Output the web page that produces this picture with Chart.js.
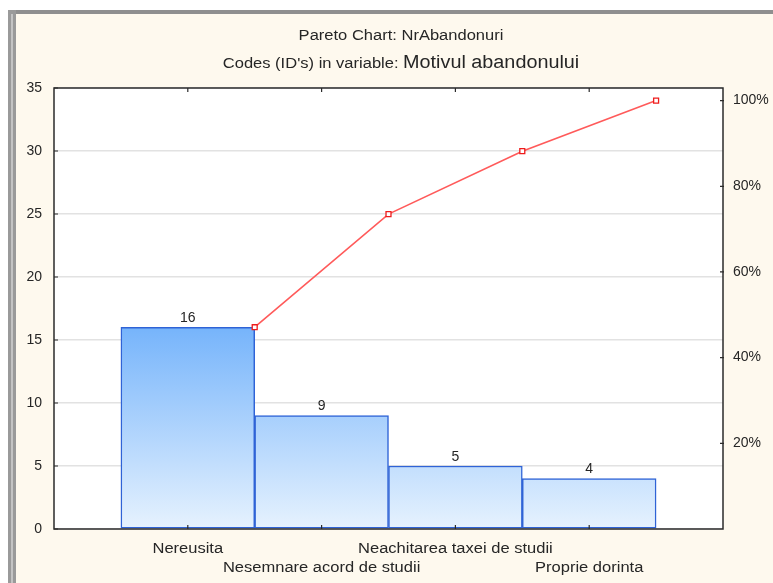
<!DOCTYPE html>
<html>
<head>
<meta charset="utf-8">
<script src="https://cdn.jsdelivr.net/npm/chart.js@4.4.1/dist/chart.umd.min.js"></script>
<style>
    html, body { margin: 0; padding: 0; background: #ffffff; }
    canvas { display: block; }
</style>
</head>
<body>
<canvas id="pareto_chart" width="773" height="583"></canvas>
<script>
'use strict';

// values
const categories = ['Nereusita', 'Nesemnare acord de studii', 'Neachitarea taxei de studii', 'Proprie dorinta'];
const counts = [16, 9, 5, 4];
const cumulative_pct = [47.1, 73.5, 88.2, 100];
const count_ticks = [0, 5, 10, 15, 20, 25, 30, 35];
const pct_ticks = [20, 40, 60, 80, 100];

const title_1 = 'Pareto Chart: NrAbandonuri';
const title_2a = "Codes (ID's) in variable: ";
const title_2b = 'Motivul abandonului';

const FONT = "'Liberation Sans', Arial, sans-serif";
const TEXT = '#262626';

const count_max = count_ticks[count_ticks.length - 1];
const total = counts.reduce((a, b) => a + b, 0);
// 100% sits at the total count on the left scale
const pct_max = 100 * count_max / total;

function bar_gradient(context) {
    let chart = context.chart;
    let area = chart.chartArea;
    if (!area) {
        return '#a8d0fb';
    }
    let top = chart.scales.y.getPixelForValue(Math.max(...counts));
    let g = chart.ctx.createLinearGradient(0, top, 0, area.bottom);
    g.addColorStop(0, '#76b4fb');
    g.addColorStop(1, '#e6f2fe');
    return g;
}

// the source text is a bit wider than Liberation Sans, so stretch it
function wide_text(ctx, text, x, y, font, stretch, align) {
    ctx.save();
    ctx.font = font;
    let w = ctx.measureText(text).width * stretch;
    let left = x;
    if (align === 'center') {
        left = x - w / 2;
    }
    ctx.translate(left, y);
    ctx.scale(stretch, 1);
    ctx.textAlign = 'left';
    ctx.fillText(text, 0, 0);
    ctx.restore();
    return w;
}

function text_width(ctx, text, font, stretch) {
    ctx.save();
    ctx.font = font;
    let w = ctx.measureText(text).width * stretch;
    ctx.restore();
    return w;
}

const frame_plugin = {
    id: 'frame_plugin',
    beforeDraw: (chart) => {
        let ctx = chart.ctx;
        let a = chart.chartArea;
        ctx.save();
        ctx.fillStyle = '#ffffff';
        ctx.fillRect(0, 0, chart.width, chart.height);
        ctx.fillStyle = '#8f8f8f';
        ctx.fillRect(8, 10, chart.width - 8, 4);
        ctx.fillStyle = '#9a9a9a';
        ctx.fillRect(8, 10, 8, chart.height - 10);
        ctx.fillStyle = '#c4c4c4';
        ctx.fillRect(11, 14, 2, chart.height - 14);
        ctx.fillStyle = '#fef9ee';
        ctx.fillRect(16, 14, chart.width - 16, chart.height - 14);
        ctx.fillStyle = '#ffffff';
        ctx.fillRect(a.left, a.top, a.right - a.left, a.bottom - a.top);
        ctx.restore();
    },
    afterDatasetsDraw: (chart) => {
        let ctx = chart.ctx;
        let a = chart.chartArea;
        let x = chart.scales.x;
        let y = chart.scales.y;
        let y2 = chart.scales.y2;
        ctx.save();

        // value labels above the bars
        ctx.fillStyle = TEXT;
        ctx.font = '14px ' + FONT;
        ctx.textAlign = 'center';
        ctx.textBaseline = 'bottom';
        counts.forEach(function (c, i) {
            ctx.fillText(String(c), x.getPixelForValue(i), y.getPixelForValue(c) - 2);
        });

        // category names, every second one on a lower row
        ctx.textBaseline = 'alphabetic';
        categories.forEach(function (c, i) {
            let row = i % 2 ? 19 : 0;
            wide_text(ctx, c, x.getPixelForValue(i), a.bottom + 24 + row, '14px ' + FONT, 1.18, 'center');
        });

        // plot border and small inner ticks
        ctx.strokeStyle = '#2b2b2b';
        ctx.lineWidth = 1.5;
        ctx.strokeRect(a.left, a.top, a.right - a.left, a.bottom - a.top);
        ctx.lineWidth = 1.2;
        ctx.beginPath();
        count_ticks.forEach(function (v) {
            let py = y.getPixelForValue(v);
            ctx.moveTo(a.left, py);
            ctx.lineTo(a.left + 4, py);
        });
        pct_ticks.forEach(function (v) {
            let py = y2.getPixelForValue(v);
            ctx.moveTo(a.right - 3, py);
            ctx.lineTo(a.right + 1, py);
        });
        categories.forEach(function (c, i) {
            let px = x.getPixelForValue(i);
            ctx.moveTo(px, a.top);
            ctx.lineTo(px, a.top + 4);
            ctx.moveTo(px, a.bottom);
            ctx.lineTo(px, a.bottom - 4);
        });
        ctx.stroke();
        ctx.restore();
    },
    afterDraw: (chart) => {
        let ctx = chart.ctx;
        let cx = 401;
        ctx.save();
        ctx.fillStyle = TEXT;
        ctx.textBaseline = 'alphabetic';
        wide_text(ctx, title_1, cx, 40, '14px ' + FONT, 1.18, 'center');

        // second line mixes two sizes
        let f_small = '14px ' + FONT;
        let f_big = '18px ' + FONT;
        let w1 = text_width(ctx, title_2a, f_small, 1.18);
        let w2 = text_width(ctx, title_2b, f_big, 1.1);
        let left = cx - (w1 + w2) / 2;
        wide_text(ctx, title_2a, left, 68, f_small, 1.18, 'left');
        wide_text(ctx, title_2b, left + w1, 68, f_big, 1.1, 'left');
        ctx.restore();
    }
};

let canvas = document.getElementById('pareto_chart').getContext('2d');
let pareto = new Chart(canvas, {
    data: {
        datasets: [
            {
                type: 'line',
                label: 'Cumulative %',
                yAxisID: 'y2',
                data: cumulative_pct.map((p, i) => ({x: i + 0.5, y: p})),
                borderColor: '#ff5a5a',
                borderWidth: 1.6,
                tension: 0,
                pointStyle: 'rect',
                pointRadius: 3.5,
                pointBorderWidth: 1.3,
                pointBorderColor: '#ee1c1c',
                pointBackgroundColor: '#ffffff',
                order: 0,
            },
            {
                type: 'bar',
                label: 'NrAbandonuri',
                yAxisID: 'y',
                data: counts.map((c, i) => ({x: i, y: c})),
                backgroundColor: bar_gradient,
                borderColor: '#2f63d6',
                borderWidth: 1.5,
                borderSkipped: false,
                barPercentage: 1,
                categoryPercentage: 1,
                order: 1,
            }
        ]
    },
    plugins: [frame_plugin],
    options: {
        responsive: false,
        animation: false,
        layout: {padding: {top: 88, left: 0, right: 0, bottom: 0}},
        plugins: {
            legend: {display: false},
            tooltip: {enabled: false},
            title: {display: false},
        },
        scales: {
            x: {
                type: 'linear',
                min: -1,
                max: categories.length,
                offset: false,
                grid: {display: false, offset: false},
                border: {display: false},
                afterBuildTicks: (s) => {
                    s.ticks = categories.map((c, i) => ({value: i}));
                },
                afterFit: (s) => {
                    s.height = 54;
                },
                // names are drawn by frame_plugin
                ticks: {display: false}
            },
            y: {
                position: 'left',
                min: 0,
                max: count_max,
                grid: {color: '#e2e2e2', lineWidth: 1.5, drawTicks: false},
                border: {display: false},
                afterBuildTicks: (s) => {
                    s.ticks = count_ticks.map((v) => ({value: v}));
                },
                afterFit: (s) => {
                    s.width = 54;
                },
                ticks: {
                    padding: 12,
                    color: TEXT,
                    font: {family: FONT, size: 14},
                }
            },
            y2: {
                position: 'right',
                min: 0,
                max: pct_max,
                grid: {display: false, drawTicks: false},
                border: {display: false},
                afterBuildTicks: (s) => {
                    s.ticks = pct_ticks.map((v) => ({value: v}));
                },
                afterFit: (s) => {
                    s.width = 50;
                },
                ticks: {
                    padding: 10,
                    color: TEXT,
                    font: {family: FONT, size: 14},
                    callback: (v) => v + '%',
                }
            }
        }
    }
});
</script>
</body>
</html>
